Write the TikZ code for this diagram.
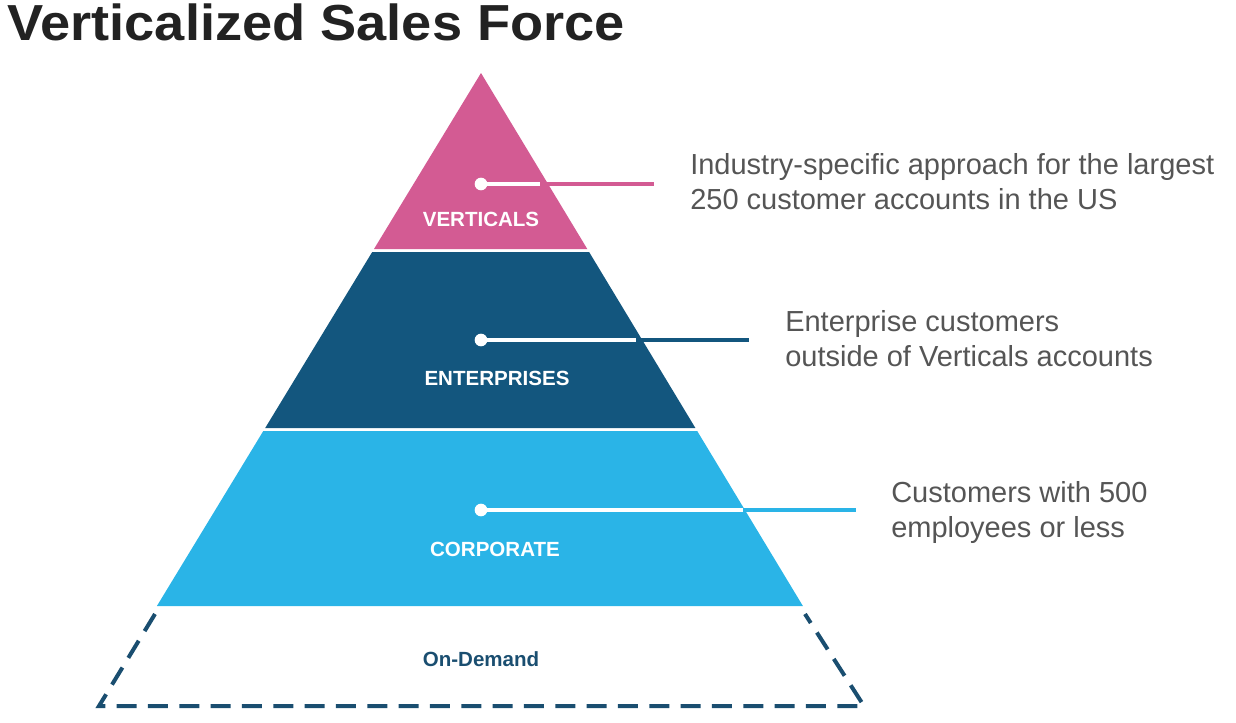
\documentclass[tikz,border=0pt]{standalone}
\usepackage{fontspec}
\setmainfont{Liberation Sans}
\definecolor{vpink}{HTML}{D35B93}
\definecolor{edark}{HTML}{13567E}
\definecolor{clight}{HTML}{2AB4E7}
\definecolor{odash}{HTML}{1A4E70}
\definecolor{bodygray}{HTML}{555555}
\definecolor{titleblack}{HTML}{222222}
\begin{document}
\begin{tikzpicture}[x=0.75pt,y=-0.75pt,
  layerlabel/.style={text=white,font=\bfseries\fontsize{15.4}{18}\selectfont,inner sep=0,anchor=base},
  desc/.style={text=bodygray,font=\fontsize{21.75}{26.25}\selectfont,align=left,inner sep=0,anchor=north west},
  dotmark/.style={circle,fill=white,inner sep=0,minimum size=9.5pt},
  leadin/.style={white,line width=2.4pt},
]
\useasboundingbox (0,0) rectangle (1236,722);
% title
\node[anchor=base west,inner sep=0,text=titleblack,font=\bfseries\fontsize{38}{40}\selectfont] (title) at (7,40) {\scalebox{1.07}[1]{Verticalized Sales Force}};
% layers
\fill[vpink] (481,73) -- (587.3,249) -- (374.0,249) -- cycle;
\fill[edark] (372.2,252) -- (589.1,252) -- (695.4,428) -- (265.2,428) -- cycle;
\fill[clight] (263.3,431) -- (697.2,431) -- (802.9,606) -- (156.9,606) -- cycle;
% on-demand dashed outline
\draw[odash,line width=3pt,dash pattern=on 15pt off 8.5pt] (155,614) -- (99,706) -- (864,706) -- (805,614);
% labels
\node[layerlabel] (lv) at (481,226) {VERTICALS};
\node[layerlabel] (le) at (497,385) {ENTERPRISES};
\node[layerlabel] (lc) at (495,556) {CORPORATE};
\node[layerlabel,text=odash] (lo) at (481,666) {On-Demand};
% leaders
\node[dotmark] (dv) at (481,184) {};
\coordinate (ev) at (540,184);
\coordinate (tv) at (654,184);
\draw[leadin] (dv.center) -- (ev);
\draw[vpink,line width=2.4pt] (ev) -- (tv);
\node[dotmark] (de) at (481,340) {};
\coordinate (ee) at (636,340);
\coordinate (te) at (749,340);
\draw[leadin] (de.center) -- (ee);
\draw[edark,line width=2.4pt] (ee) -- (te);
\node[dotmark] (dc) at (481,510) {};
\coordinate (ec) at (743,510);
\coordinate (tc) at (856,510);
\draw[leadin] (dc.center) -- (ec);
\draw[clight,line width=2.4pt] (ec) -- (tc);
% descriptions
\node[desc] (d1) at (690,153) {Industry-specific approach for the largest\\250 customer accounts in the US};
\node[desc] (d2) at (785,310) {Enterprise customers\\outside of Verticals accounts};
\node[desc] (d3) at (891,481) {Customers with 500\\employees or less};
\end{tikzpicture}
\end{document}
